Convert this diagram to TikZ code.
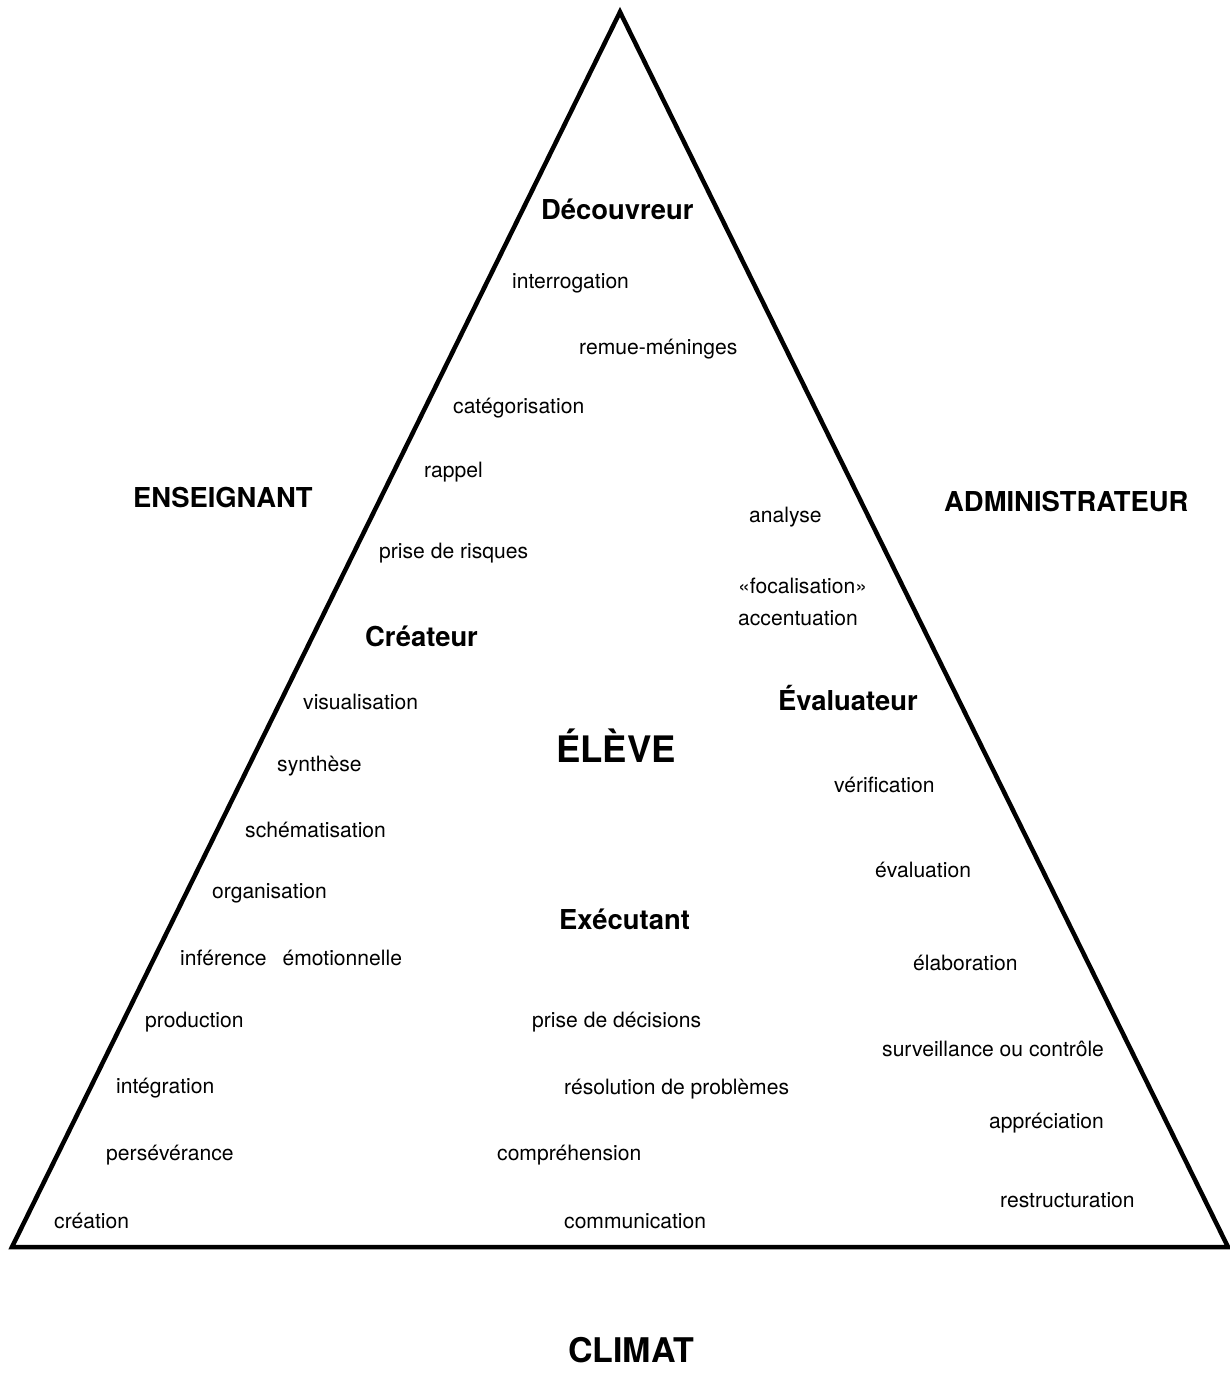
\documentclass[tikz,border=0pt]{standalone}
\usepackage{fontspec}
\setmainfont{TeX Gyre Heros}
\begin{document}
\begin{tikzpicture}[x=1pt,y=-1pt,
  lbl/.style={anchor=west,inner sep=0pt,font=\fontsize{21.1}{25}\selectfont},
  role/.style={anchor=west,inner sep=0pt,font=\fontsize{27.4}{31}\selectfont\bfseries},
  big/.style={anchor=west,inner sep=0pt,font=\fontsize{36.5}{40}\selectfont\bfseries}]
\useasboundingbox (0,0) rectangle (1230,1389);
\coordinate (A) at (620,12);
\coordinate (B) at (12,1247);
\coordinate (C) at (1228,1247);
\draw[line width=4.5pt,line join=miter] (A) -- (B) -- (C) -- cycle;
\node[role] (decouvreur) at (541,209) {Découvreur};
\node[lbl] (interrogation) at (512,283) {interrogation};
\node[lbl] (remue) at (579,349) {remue-méninges};
\node[lbl] (categ) at (453,408) {catégorisation};
\node[lbl] (rappel) at (424,472) {rappel};
\node[role] (enseignant) at (133,498) {ENSEIGNANT};
\node[lbl] (analyse) at (749,517) {analyse};
\node[role] (admin) at (944,502) {ADMINISTRATEUR};
\node[lbl] (risques) at (379,553) {prise de risques};
\node[lbl] (focal) at (738,586) {«focalisation»};
\node[lbl] (accent) at (738,618) {accentuation};
\node[role] (createur) at (365,636) {Créateur};
\node[lbl] (visual) at (303,702) {visualisation};
\node[role] (evaluateur) at (778,698) {Évaluateur};
\node[big] (eleve) at (556,746) {ÉLÈVE};
\node[lbl] (synthese) at (277,766) {synthèse};
\node[lbl] (verif) at (834,785) {vérification};
\node[lbl] (schema) at (245,830) {schématisation};
\node[lbl] (evaluation) at (875,870) {évaluation};
\node[lbl] (organisation) at (212,893) {organisation};
\node[role] (executant) at (559,919) {Exécutant};
\node[lbl] (inference) at (180,958) {inférence\hspace{16pt}émotionnelle};
\node[lbl] (elaboration) at (913,963) {élaboration};
\node[lbl] (production) at (145,1022) {production};
\node[lbl] (decisions) at (532,1022) {prise de décisions};
\node[lbl] (surveillance) at (882,1049) {surveillance ou contrôle};
\node[lbl] (integration) at (116,1088) {intégration};
\node[lbl] (resolution) at (564,1089) {résolution de problèmes};
\node[lbl] (appreciation) at (989,1123) {appréciation};
\node[lbl] (perseverance) at (106,1155) {persévérance};
\node[lbl] (comprehension) at (497,1155) {compréhension};
\node[lbl] (restructuration) at (1000,1200) {restructuration};
\node[lbl] (creation) at (54,1221) {création};
\node[lbl] (communication) at (564,1221) {communication};
\node[anchor=west,inner sep=0pt,font=\fontsize{34}{38}\selectfont\bfseries] (climat) at (568,1350) {CLIMAT};
\end{tikzpicture}
\end{document}
